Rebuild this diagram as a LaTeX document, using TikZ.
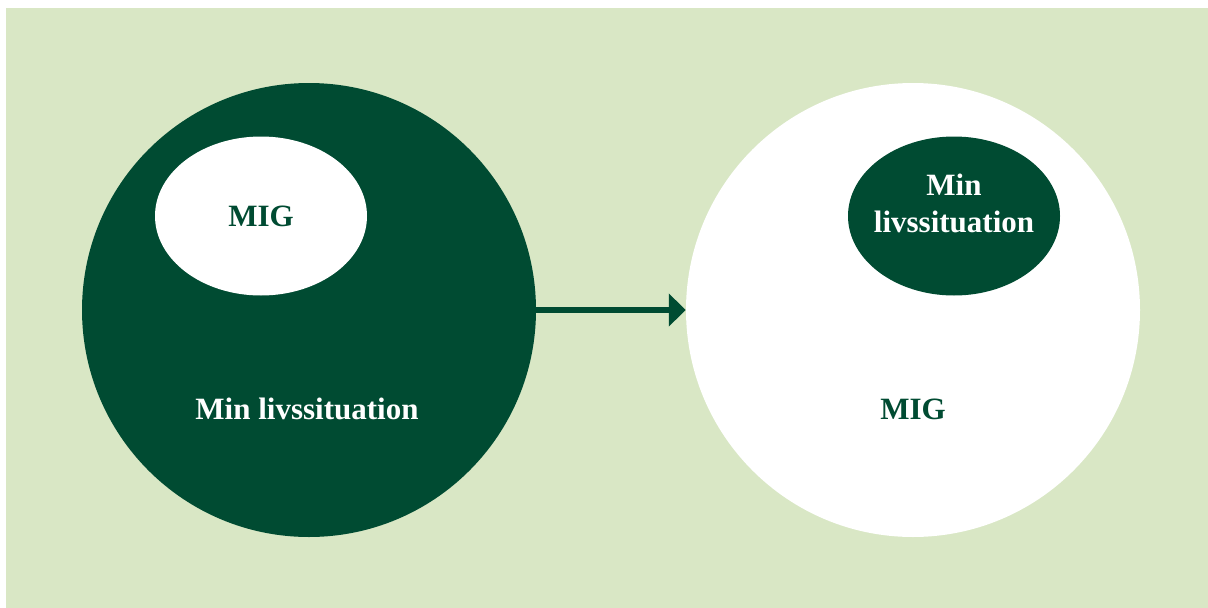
\documentclass[tikz,border=0pt]{standalone}
\usepackage{fontspec}
\setmainfont{Liberation Serif}
\usetikzlibrary{arrows.meta,shapes.geometric}
\definecolor{bgreen}{RGB}{217,231,197}
\definecolor{dgreen}{RGB}{0,75,50}
\tikzset{
  lbl/.style={font=\fontsize{31}{37}\selectfont\bfseries, align=center, inner sep=0pt},
  conn/.style={draw=dgreen, line width=6pt, -{Triangle[length=17pt,width=32pt]}},
}
\begin{document}
\begin{tikzpicture}[x=1pt,y=-1pt]
\useasboundingbox (0,0) rectangle (1208,608);
\fill[bgreen] (6,8) rectangle (1208,608);
% left
\node[circle, fill=dgreen, minimum size=454pt, inner sep=0pt] (lc) at (309,310) {};
\node[ellipse, fill=white, minimum width=212pt, minimum height=159pt, inner sep=0pt] (le) at (261,216) {};
\node[lbl, text=dgreen] (lmig) at (261,216) {MIG};
\node[lbl, text=white] (lmin) at (307,409) {Min livssituation};
% right
\node[circle, fill=white, minimum size=454pt, inner sep=0pt] (rc) at (913,310) {};
\node[ellipse, fill=dgreen, minimum width=212pt, minimum height=159pt, inner sep=0pt] (re) at (954,216) {};
\node[lbl, text=white] (rmin) at (954,203) {Min\\livssituation};
\node[lbl, text=dgreen] (rmig) at (913,409) {MIG};
% arrow
\draw[conn] (lc.east) -- (rc.west);
\end{tikzpicture}
\end{document}
